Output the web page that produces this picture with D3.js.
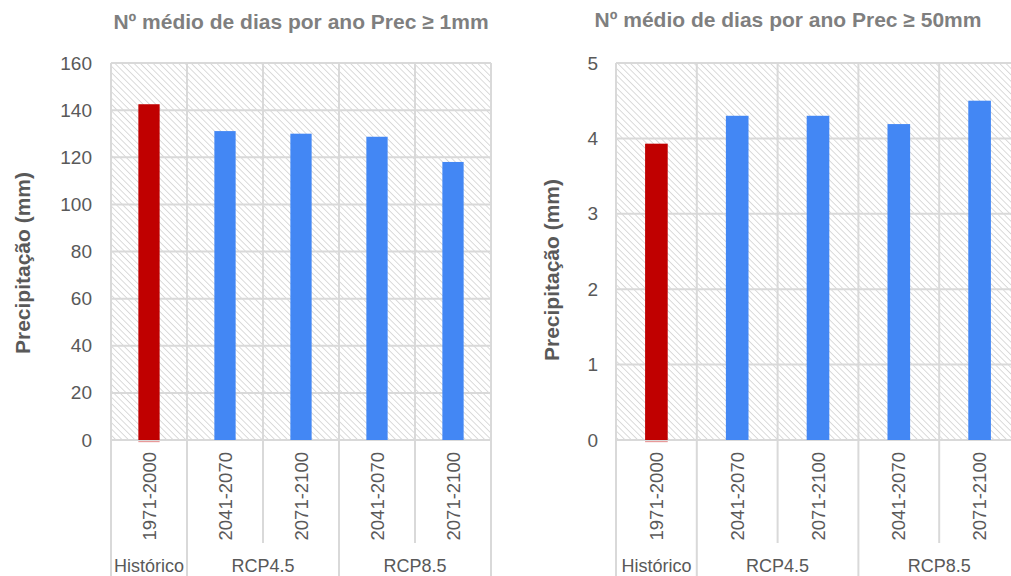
<!DOCTYPE html>
<html>
<head>
<meta charset="utf-8">
<script src="https://cdn.jsdelivr.net/npm/d3@7/dist/d3.min.js"></script>
<style>
  html, body { margin: 0; padding: 0; background: #fff; }
  svg { display: block; font-family: "Liberation Sans", Arial, sans-serif; }
</style>
</head>
<body>
<svg id="chart" width="1011" height="576"></svg>
<script>
// ---- data ----
const periods = ["1971-2000", "2041-2070", "2071-2100", "2041-2070", "2071-2100"];
const scenarios = ["Histórico", "RCP4.5", "RCP4.5", "RCP8.5", "RCP8.5"];
const groups = ["Histórico", "RCP4.5", "RCP8.5"];
const days1mm = [142.5, 131.1, 130.0, 128.7, 118.0];
const days50mm = [3.93, 4.30, 4.30, 4.19, 4.50];
const ticks1mm = [0, 20, 40, 60, 80, 100, 120, 140, 160];
const ticks50mm = [0, 1, 2, 3, 4, 5];
const titles = ["Nº médio de dias por ano Prec ≥ 1mm", "Nº médio de dias por ano Prec ≥ 50mm"];
const yAxisTitle = "Precipitação (mm)";

// ---- style ----
const RED = "#C00000", BLUE = "#4387F4", GRID = "#d9d9d9", TXT = "#595959", TTL = "#7f7f7f";

const svg = d3.select("#chart");
const defs = svg.append("defs");
const pat = defs.append("pattern")
  .attr("id", "hatch").attr("patternUnits", "userSpaceOnUse")
  .attr("width", 4.5).attr("height", 4.5)
  .attr("patternTransform", "rotate(-45)");
pat.append("rect").attr("width", 4.5).attr("height", 4.5).attr("fill", "#fff");
pat.append("line").attr("x1", 0).attr("y1", 0).attr("x2", 0).attr("y2", 4.5)
  .attr("stroke", "#c8c8c8").attr("stroke-width", 1.3);

function drawChart(cfg) {
  const { x0, x1, yTop, yBot, values, ticks, title, titleX, titleY, axTitleX, axTitleY, tickX } = cfg;
  const g = svg.append("g");
  const idx = d3.range(periods.length);
  const x = d3.scaleBand().domain(idx).range([x0, x1]).padding(0);
  const y = d3.scaleLinear().domain([d3.min(ticks), d3.max(ticks)]).range([yBot, yTop]);
  const step = x.step();

  // plot background
  g.append("rect").attr("x", x0).attr("y", yTop).attr("width", x1 - x0).attr("height", yBot - yTop)
    .attr("fill", "url(#hatch)");

  // horizontal gridlines
  g.selectAll(".hg").data(ticks).join("line")
    .attr("x1", x0).attr("x2", x1)
    .attr("y1", d => y(d)).attr("y2", d => y(d))
    .attr("stroke", GRID).attr("stroke-width", 2);

  // vertical lines at category boundaries
  const bounds = d3.range(periods.length + 1);
  g.selectAll(".vg").data(bounds).join("line")
    .attr("x1", i => x0 + i * step).attr("x2", i => x0 + i * step)
    .attr("y1", yTop)
    .attr("y2", i => (i === 0 || i === periods.length || scenarios[i] !== scenarios[i - 1]) ? 576 : 543)
    .attr("stroke", GRID).attr("stroke-width", 2);

  // bars
  const bw = step * 0.28;
  g.selectAll(".bar").data(values).join("rect")
    .attr("x", (d, i) => x(i) + step / 2 - bw / 2)
    .attr("width", bw)
    .attr("y", d => y(d))
    .attr("height", d => y(0) - y(d))
    .attr("fill", (d, i) => i === 0 ? RED : BLUE);
  // faint tail under the first bar
  g.append("rect").attr("x", x(0) + step / 2 - bw / 2).attr("width", bw)
    .attr("y", y(0) + 1).attr("height", 1.2).attr("fill", "#e89a9a");

  // y tick labels via axis
  const axis = d3.axisLeft(y).tickValues(ticks).tickFormat(d3.format("d")).tickSize(0).tickPadding(0);
  const ag = g.append("g").attr("transform", `translate(${tickX},0)`).call(axis);
  ag.select(".domain").remove();
  ag.selectAll("text").attr("fill", TXT).style("font-size", "19px")
    .style("font-family", "'Liberation Sans', Arial, sans-serif");

  // category labels (rotated)
  g.selectAll(".cl").data(periods).join("text")
    .attr("transform", (d, i) => `translate(${x(i) + step / 2},452) rotate(-90)`)
    .attr("text-anchor", "end").attr("dy", "0.36em")
    .attr("fill", TXT).style("font-size", "18.5px").text(d => d);

  // group labels
  groups.forEach(gr => {
    const ids = idx.filter(i => scenarios[i] === gr);
    const cx = (x(ids[0]) + x(ids[ids.length - 1]) + step) / 2;
    g.append("text").attr("x", cx).attr("y", 572).attr("text-anchor", "middle")
      .attr("fill", TXT).style("font-size", "18px").text(gr);
  });

  // chart title
  g.append("text").attr("x", titleX).attr("y", titleY).attr("text-anchor", "middle")
    .attr("fill", TTL).style("font-size", "21px").style("font-weight", "bold").text(title);

  // y axis title
  g.append("text").attr("transform", `translate(${axTitleX},${axTitleY}) rotate(-90)`)
    .attr("text-anchor", "middle").attr("dy", "0.36em")
    .attr("fill", TXT).style("font-size", "21px").style("font-weight", "bold").text(yAxisTitle);
}

drawChart({ x0: 111, x1: 491, yTop: 63, yBot: 440, values: days1mm, ticks: ticks1mm,
  title: titles[0], titleX: 301, titleY: 29, axTitleX: 22, axTitleY: 263, tickX: 92 });
drawChart({ x0: 616, x1: 1020, yTop: 63, yBot: 440, values: days50mm, ticks: ticks50mm,
  title: titles[1], titleX: 788, titleY: 27, axTitleX: 551, axTitleY: 270, tickX: 598 });
</script>
</body>
</html>
